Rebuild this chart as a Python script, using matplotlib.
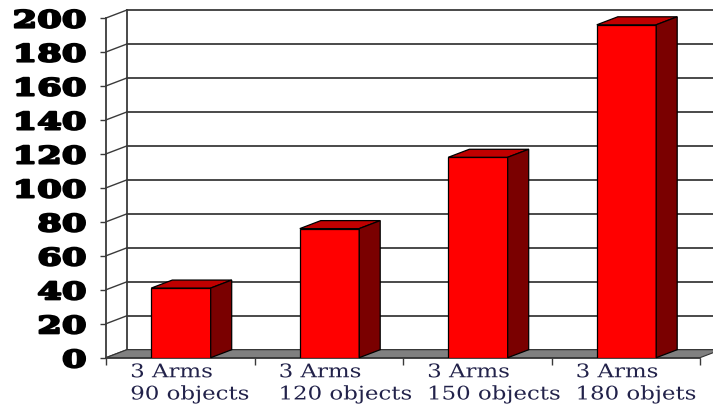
import matplotlib
matplotlib.use("Agg")
import matplotlib.pyplot as plt
import matplotlib.patheffects as pe
from matplotlib.transforms import Affine2D

# data
categories = ["3 Arms\n90 objects", "3 Arms\n120 objects", "3 Arms\n150 objects", "3 Arms\n180 objets"]
values = [41, 76, 118, 196]
yticks = list(range(0, 201, 20))

# 3d look: depth offset in data units
DX = 0.1414
DY = 4.71
BAR_W = 0.4


class Stretch(pe.AbstractPathEffect):
    """widen the glyphs horizontally, keeping one side of the text fixed"""
    def __init__(self, sx, side="left", stroke=0.0, color="black"):
        super().__init__()
        self.sx = sx
        self.side = side
        self.stroke = stroke
        self.color = color

    def draw_path(self, renderer, gc, tpath, affine, rgbFace=None):
        bb = tpath.get_extents(affine)
        x0 = bb.x1 if self.side == "right" else bb.x0
        tr = affine + Affine2D().translate(-x0, 0).scale(self.sx, 1).translate(x0, 0)
        if self.stroke:
            gc0 = renderer.new_gc()
            gc0.copy_properties(gc)
            gc0.set_linewidth(self.stroke)
            gc0.set_foreground(self.color)
            renderer.draw_path(gc0, tpath, tr, rgbFace)
            gc0.restore()
        renderer.draw_path(gc, tpath, tr, rgbFace)


fig = plt.figure(figsize=(7.13, 4.10), dpi=100)
ax = fig.add_axes([106 / 713, (410 - 358.7) / 410, 594 / 713, 339.7 / 410])
ax.set_xlim(0, 4)
ax.set_ylim(0, 200)
ax.patch.set_visible(False)

grid_col = "#3a3a3a"
n = len(categories)

# back wall grid + side wall diagonals
for v in yticks:
    ax.plot([DX, n + DX], [v + DY, v + DY], color=grid_col, lw=1.3, clip_on=False, zorder=1)
    ax.plot([0, DX], [v, v + DY], color=grid_col, lw=1.0, clip_on=False, zorder=1)
ax.plot([DX, DX], [DY, 200 + DY], color=grid_col, lw=1.3, clip_on=False, zorder=1)

# floor
ax.fill([0, n, n + DX, DX], [0, 0, DY, DY], facecolor="#808080", edgecolor="#333333",
        lw=0.8, clip_on=False, zorder=2)

# bars
for i, v in enumerate(values):
    x0 = i + 0.5 + 0.005 - BAR_W / 2
    x1 = x0 + BAR_W
    ax.bar(x0, v, width=BAR_W, align="edge", color="#ff0000", edgecolor="black", lw=0.9, zorder=3)
    ax.fill([x0, x1, x1 + DX, x0 + DX], [v, v, v + DY, v + DY], facecolor="#c00000",
            edgecolor="black", lw=0.9, clip_on=False, zorder=3)
    ax.fill([x1, x1 + DX, x1 + DX, x1], [0, DY, v + DY, v], facecolor="#7a0000",
            edgecolor="black", lw=0.9, clip_on=False, zorder=3)

for s in ["top", "right"]:
    ax.spines[s].set_visible(False)
ax.spines["left"].set_color(grid_col)
ax.spines["bottom"].set_color(grid_col)
ax.spines["left"].set_linewidth(1.3)
ax.spines["bottom"].set_linewidth(1.3)

ax.set_yticks(yticks)
ax.set_yticklabels([str(t) for t in yticks], fontfamily="DejaVu Serif", fontweight="bold",
                   fontsize=17, color="black")
for lab in ax.get_yticklabels():
    lab.set_path_effects([Stretch(1.5, side="right", stroke=1.6)])
ax.tick_params(axis="y", length=4.3, width=1.0, color=grid_col, pad=10)

ax.set_xticks(range(n + 1))
ax.set_xticklabels([""] * (n + 1))
ax.tick_params(axis="x", which="major", length=5, width=1.0, color=grid_col)
ax.set_xticks([i + 0.165 for i in range(n)], minor=True)
ax.set_xticklabels(categories, minor=True, fontfamily="DejaVu Serif", fontsize=13.5,
                   color="#22224a", ha="left", linespacing=1.3)
for lab in ax.get_xticklabels(minor=True):
    lab.set_path_effects([Stretch(1.22, side="left")])
ax.tick_params(axis="x", which="minor", length=0, pad=4)

fig.savefig("out.png", dpi=100)
